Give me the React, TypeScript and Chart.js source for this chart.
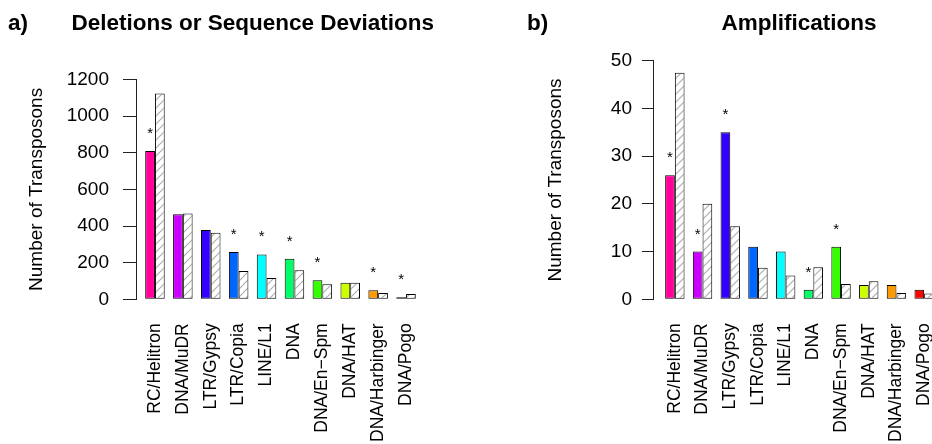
import React, { useEffect, useRef } from 'react';
import { Chart, registerables } from 'chart.js';

Chart.register(...registerables);

const categories = [
  'RC/Helitron',
  'DNA/MuDR',
  'LTR/Gypsy',
  'LTR/Copia',
  'LINE/L1',
  'DNA',
  'DNA/En\u2212Spm',
  'DNA/HAT',
  'DNA/Harbinger',
  'DNA/Pogo',
];

const barColors = [
  '#FF0099',
  '#CC00FF',
  '#3300FF',
  '#0066FF',
  '#00FFFF',
  '#00FF66',
  '#33FF00',
  '#CCFF00',
  '#FF9900',
  '#FF0000',
];

// a) Deletions or Sequence Deviations
const delObserved = [809, 465, 378, 258, 245, 222, 104, 91, 49, 11];
const delExpected = [1124, 469, 363, 154, 116, 158, 82, 91, 34, 29];
const delSignificant = [1, 0, 0, 1, 1, 1, 1, 0, 1, 1];
const delTicks = { min: 0, max: 1200, step: 200 };

// b) Amplifications
const ampObserved = [26, 10, 35, 11, 10, 2, 11, 3, 3, 2];
const ampExpected = [47.5, 20, 15.3, 6.6, 5, 6.7, 3.2, 3.8, 1.3, 1.2];
const ampSignificant = [1, 1, 1, 0, 0, 1, 1, 0, 0, 0];
const ampTicks = { min: 0, max: 50, step: 10 };

const FONT = '"Liberation Sans", Arial, Helvetica, sans-serif';

function makeHatch(): CanvasPattern | string {
  const s = 8;
  const c = document.createElement('canvas');
  c.width = s;
  c.height = s;
  const g = c.getContext('2d');
  if (!g) return '#fff';
  g.fillStyle = '#ffffff';
  g.fillRect(0, 0, s, s);
  g.strokeStyle = '#b0b0b0';
  g.lineWidth = 1.2;
  g.beginPath();
  g.moveTo(0, s);
  g.lineTo(s, 0);
  g.moveTo(-1, 1);
  g.lineTo(1, -1);
  g.moveTo(s - 1, s + 1);
  g.lineTo(s + 1, s - 1);
  g.stroke();
  const p = g.createPattern(c, 'repeat');
  return p || '#fff';
}

function starPlugin(sig: number[]) {
  return {
    id: 'stars',
    afterDatasetsDraw(chart: any) {
      const meta = chart.getDatasetMeta(0);
      const ctx = chart.ctx;
      ctx.save();
      ctx.fillStyle = '#000';
      ctx.font = '15px ' + FONT;
      ctx.textAlign = 'center';
      ctx.textBaseline = 'alphabetic';
      meta.data.forEach((el: any, i: number) => {
        if (sig[i]) ctx.fillText('*', el.x, el.y - 13);
      });
      ctx.restore();
    },
  };
}

interface PanelProps {
  observed: number[];
  expected: number[];
  sig: number[];
  ticks: { min: number; max: number; step: number };
  width: number;
  padTop: number;
  padRight: number;
  axisWidth: number;
  spacer: number;
  tickLen: number;
  tickPad: number;
  titlePad: number;
  bottom: number;
}

function Panel(props: PanelProps) {
  const ref = useRef<HTMLCanvasElement | null>(null);
  useEffect(() => {
    if (!ref.current) return;
    const hatch = makeHatch();
    const chart = new Chart(ref.current, {
      type: 'bar',
      data: {
        labels: categories,
        datasets: [
          {
            label: 'Observed',
            data: props.observed,
            backgroundColor: barColors,
            borderColor: '#000',
            borderWidth: 1,
            borderSkipped: false,
            categoryPercentage: 0.7,
            barPercentage: 1,
          },
          {
            label: 'Expected',
            data: props.expected,
            backgroundColor: hatch as any,
            borderColor: '#000',
            borderWidth: 1,
            borderSkipped: false,
            categoryPercentage: 0.7,
            barPercentage: 1,
          },
        ],
      },
      options: {
        animation: false,
        responsive: false,
        maintainAspectRatio: false,
        layout: { padding: { top: props.padTop, right: props.padRight, left: 0, bottom: 0 } },
        plugins: {
          legend: { display: false },
          tooltip: { enabled: false },
          title: { display: false },
        },
        scales: {
          x: {
            type: 'category',
            offset: true,
            grid: { display: false, drawTicks: false },
            border: { display: false },
            ticks: {
              autoSkip: false,
              maxRotation: 90,
              minRotation: 90,
              padding: 24,
              color: '#000',
              font: { family: FONT, size: 17.5 },
            },
            afterFit: (s: any) => {
              s.height = props.bottom;
              s.paddingLeft = 0;
              s.paddingRight = 0;
            },
          },
          y: {
            type: 'linear',
            position: 'left',
            weight: 10,
            min: props.ticks.min,
            max: props.ticks.max,
            ticks: {
              stepSize: props.ticks.step,
              padding: props.tickPad,
              color: '#000',
              font: { family: FONT, size: 19 },
              callback: (v: any) => String(v),
            },
            grid: {
              drawOnChartArea: false,
              drawTicks: true,
              tickLength: props.tickLen,
              color: '#222',
              lineWidth: 1,
            },
            border: { display: true, color: '#222', width: 1 },
            title: {
              display: true,
              text: 'Number of Transposons',
              color: '#000',
              font: { family: FONT, size: 19 },
              padding: { top: props.titlePad, bottom: 0 },
            },
            afterFit: (s: any) => {
              s.width = props.axisWidth;
            },
          },
          ySpace: {
            type: 'linear',
            position: 'left',
            weight: 0,
            display: true,
            ticks: { display: false },
            grid: { display: false, drawTicks: false },
            border: { display: false },
            afterFit: (s: any) => {
              s.width = props.spacer;
            },
          },
        },
      } as any,
      plugins: [starPlugin(props.sig)],
    });
    return () => chart.destroy();
  }, []);
  return <canvas ref={ref} width={props.width} height={444} style={{ width: props.width, height: 444, display: 'block' }} />;
}

const titleStyle: React.CSSProperties = {
  position: 'absolute',
  top: 11.5,
  fontFamily: FONT,
  fontWeight: 'bold',
  fontSize: 22.5,
  lineHeight: '22.5px',
  whiteSpace: 'nowrap',
  color: '#000',
};

export default function App() {
  return (
    <div
      style={{
        position: 'fixed',
        left: 0,
        top: 0,
        width: 932,
        height: 444,
        overflow: 'hidden',
        background: '#fff',
      }}
    >
      <div style={{ position: 'absolute', left: 0, top: 0 }}>
        <Panel
          observed={delObserved}
          expected={delExpected}
          sig={delSignificant}
          ticks={delTicks}
          width={466}
          padTop={79.5}
          padRight={46}
          axisWidth={136}
          spacer={5}
          tickLen={13}
          tickPad={14}
          titlePad={25.5}
          bottom={144.7}
        />
      </div>
      <div style={{ position: 'absolute', left: 466, top: 0 }}>
        <Panel
          observed={ampObserved}
          expected={ampExpected}
          sig={ampSignificant}
          ticks={ampTicks}
          width={510}
          padTop={60.7}
          padRight={38}
          axisWidth={187}
          spacer={8}
          tickLen={11}
          tickPad={10}
          titlePad={78.5}
          bottom={144.7}
        />
      </div>
      <div style={{ ...titleStyle, left: 8 }}>a)</div>
      <div style={{ ...titleStyle, left: 71.5 }}>Deletions or Sequence Deviations</div>
      <div style={{ ...titleStyle, left: 527 }}>b)</div>
      <div style={{ ...titleStyle, left: 721.5 }}>Amplifications</div>
    </div>
  );
}
